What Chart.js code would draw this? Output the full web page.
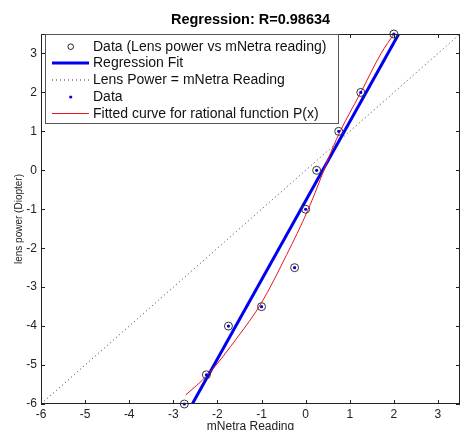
<!DOCTYPE html>
<html>
<head>
<meta charset="utf-8">
<title>Regression</title>
<style>
  html, body { margin: 0; padding: 0; background: #fff; }
  #wrap { width: 465px; height: 430px; }
</style>
<script src="https://cdn.jsdelivr.net/npm/chart.js@4.4.1/dist/chart.umd.min.js"></script>
</head>
<body>
<div id="wrap"><canvas id="chart" width="465" height="430"></canvas></div>
<script>
// measured points (mNetra reading vs lens power)
const readingX = [-2.75, -2.25, -1.75, -1, -0.25, 0, 0.25, 0.75, 1.25, 2];
const lensPower = [-6, -5.25, -4, -3.5, -2.5, -1, 0, 1, 2, 3.5];

// regression fit line, end points
const fitX = [-2.57, 2.11];
const fitY = [-6, 3.5];

// lens power = mNetra reading
const identityX = [-6, 3.5];
const identityY = [-6, 3.5];

// fitted rational curve P(x), sampled from the plot
const curveX = [-2.72, -2.23, -1.52, -1.0, -0.44, 0.06, 0.7, 1.26, 1.71, 2.0];
const curveY = [-5.77, -5.26, -4.25, -3.4, -2.19, -1.0, 0.8, 2.02, 3.0, 3.5];

const xTicks = [-6, -5, -4, -3, -2, -1, 0, 1, 2, 3];
const yTicks = [-6, -5, -4, -3, -2, -1, 0, 1, 2, 3];

const FONT = "'Liberation Sans', Arial, sans-serif";

function toPoints(xs, ys) {
    return xs.map((x, i) => ({ x: x, y: ys[i] }));
}

// box round the axes with MATLAB style inward ticks
const frameAndTicks = {
    id: 'frameAndTicks',
    afterDatasetsDraw(chart) {
        const { ctx, chartArea: a, scales } = chart;
        ctx.save();
        ctx.strokeStyle = '#222';
        ctx.lineWidth = 1;
        ctx.beginPath();
        xTicks.forEach(v => {
            const px = Math.round(scales.x.getPixelForValue(v)) + 0.5;
            ctx.moveTo(px, a.bottom); ctx.lineTo(px, a.bottom - 4);
            ctx.moveTo(px, a.top); ctx.lineTo(px, a.top + 4);
        });
        yTicks.forEach(v => {
            const py = Math.round(scales.y.getPixelForValue(v)) + 0.5;
            ctx.moveTo(a.left, py); ctx.lineTo(a.left + 4, py);
            ctx.moveTo(a.right, py); ctx.lineTo(a.right - 4, py);
        });
        ctx.stroke();
        ctx.strokeRect(a.left + 0.5, a.top + 0.5, a.right - a.left - 1, a.bottom - a.top - 1);
        ctx.restore();
    }
};

// legend box in the upper left corner of the axes
const matlabLegend = {
    id: 'matlabLegend',
    afterDraw(chart) {
        const { ctx, chartArea: a } = chart;
        const left = a.left + 4, top = a.top, w = 293, h = 89;
        const x0 = left + 7, x1 = left + 44, xm = left + 25.7, tx = left + 48;
        const rows = [46.7, 63, 80, 97, 113.5];
        ctx.save();
        ctx.fillStyle = '#fff';
        ctx.fillRect(left, top, w, h);
        ctx.strokeStyle = '#555';
        ctx.lineWidth = 1;
        ctx.strokeRect(left + 0.5, top + 0.5, w, h);

        // circle marker
        ctx.beginPath();
        ctx.arc(xm, rows[0], 2.8, 0, Math.PI * 2);
        ctx.strokeStyle = '#222';
        ctx.stroke();
        // regression fit
        ctx.beginPath();
        ctx.moveTo(x0, rows[1]); ctx.lineTo(x1, rows[1]);
        ctx.strokeStyle = '#0000f0';
        ctx.lineWidth = 3;
        ctx.stroke();
        // identity line
        ctx.beginPath();
        ctx.setLineDash([1, 3]);
        ctx.moveTo(x0, rows[2]); ctx.lineTo(x1, rows[2]);
        ctx.strokeStyle = '#333';
        ctx.lineWidth = 1;
        ctx.stroke();
        ctx.setLineDash([]);
        // data dot
        ctx.beginPath();
        ctx.arc(xm, rows[3], 1.6, 0, Math.PI * 2);
        ctx.fillStyle = '#0000f0';
        ctx.fill();
        // fitted curve
        ctx.beginPath();
        ctx.moveTo(x0, rows[4]); ctx.lineTo(x1, rows[4]);
        ctx.strokeStyle = '#e8141e';
        ctx.stroke();

        const labels = chart.data.datasets.map(d => d.label);
        ctx.fillStyle = '#111';
        ctx.font = '14px ' + FONT;
        ctx.textBaseline = 'middle';
        labels.forEach((t, i) => ctx.fillText(t, tx, rows[i] + 0.5));
        ctx.restore();
    }
};

new Chart(document.getElementById('chart'), {
    type: 'scatter',
    data: {
        datasets: [
            {
                label: 'Data (Lens power vs mNetra reading)',
                data: toPoints(readingX, lensPower),
                pointStyle: 'circle',
                pointRadius: 4,
                pointBackgroundColor: 'rgba(0,0,0,0)',
                pointBorderColor: '#333',
                pointBorderWidth: 1,
                clip: false,
                order: 0
            },
            {
                label: 'Regression Fit',
                data: toPoints(fitX, fitY),
                showLine: true,
                borderColor: '#0000f0',
                borderWidth: 3,
                pointRadius: 0,
                order: 3
            },
            {
                label: 'Lens Power = mNetra Reading',
                data: toPoints(identityX, identityY),
                showLine: true,
                borderColor: '#333',
                borderWidth: 1,
                borderDash: [1, 3],
                pointRadius: 0,
                order: 4
            },
            {
                label: 'Data',
                data: toPoints(readingX, lensPower),
                pointRadius: 1.6,
                pointBackgroundColor: '#0000f0',
                pointBorderWidth: 0,
                clip: false,
                order: 1
            },
            {
                label: 'Fitted curve for rational function P(x)',
                data: toPoints(curveX, curveY),
                showLine: true,
                borderColor: '#e8141e',
                borderWidth: 1,
                cubicInterpolationMode: 'monotone',
                pointRadius: 0,
                order: 2
            }
        ]
    },
    options: {
        responsive: false,
        animation: false,
        devicePixelRatio: 1,
        layout: { padding: { left: 0, right: 2, top: 0, bottom: 0 } },
        plugins: {
            legend: { display: false },
            tooltip: { enabled: false },
            title: {
                display: true,
                text: 'Regression: R=0.98634',
                fullSize: false,
                color: '#000',
                font: { family: FONT, size: 14.5, weight: 'bold' },
                padding: { top: 11, bottom: 5.6 }
            }
        },
        scales: {
            x: {
                type: 'linear',
                min: -6,
                max: 3.5,
                afterBuildTicks: s => { s.ticks = xTicks.map(v => ({ value: v })); },
                afterFit: s => { s.height = 26; },
                grid: { display: false, drawTicks: false },
                border: { display: false },
                ticks: {
                    color: '#222',
                    padding: 3,
                    font: { family: FONT, size: 12 },
                    callback: v => String(v)
                },
                title: {
                    display: true,
                    text: 'mNetra Reading',
                    color: '#222',
                    font: { family: FONT, size: 12 },
                    padding: { top: 0, bottom: -3.5 }
                }
            },
            y: {
                type: 'linear',
                min: -6,
                max: 3.5,
                afterBuildTicks: s => { s.ticks = yTicks.map(v => ({ value: v })); },
                afterFit: s => { s.width = 41; },
                grid: { display: false, drawTicks: false },
                border: { display: false },
                ticks: {
                    color: '#222',
                    padding: 4,
                    font: { family: FONT, size: 12 },
                    callback: v => String(v)
                },
                title: {
                    display: true,
                    text: 'lens power (Diopter)',
                    color: '#222',
                    font: { family: FONT, size: 10 },
                    padding: { top: 13, bottom: 0 }
                }
            }
        }
    },
    plugins: [frameAndTicks, matlabLegend]
});
</script>
</body>
</html>
